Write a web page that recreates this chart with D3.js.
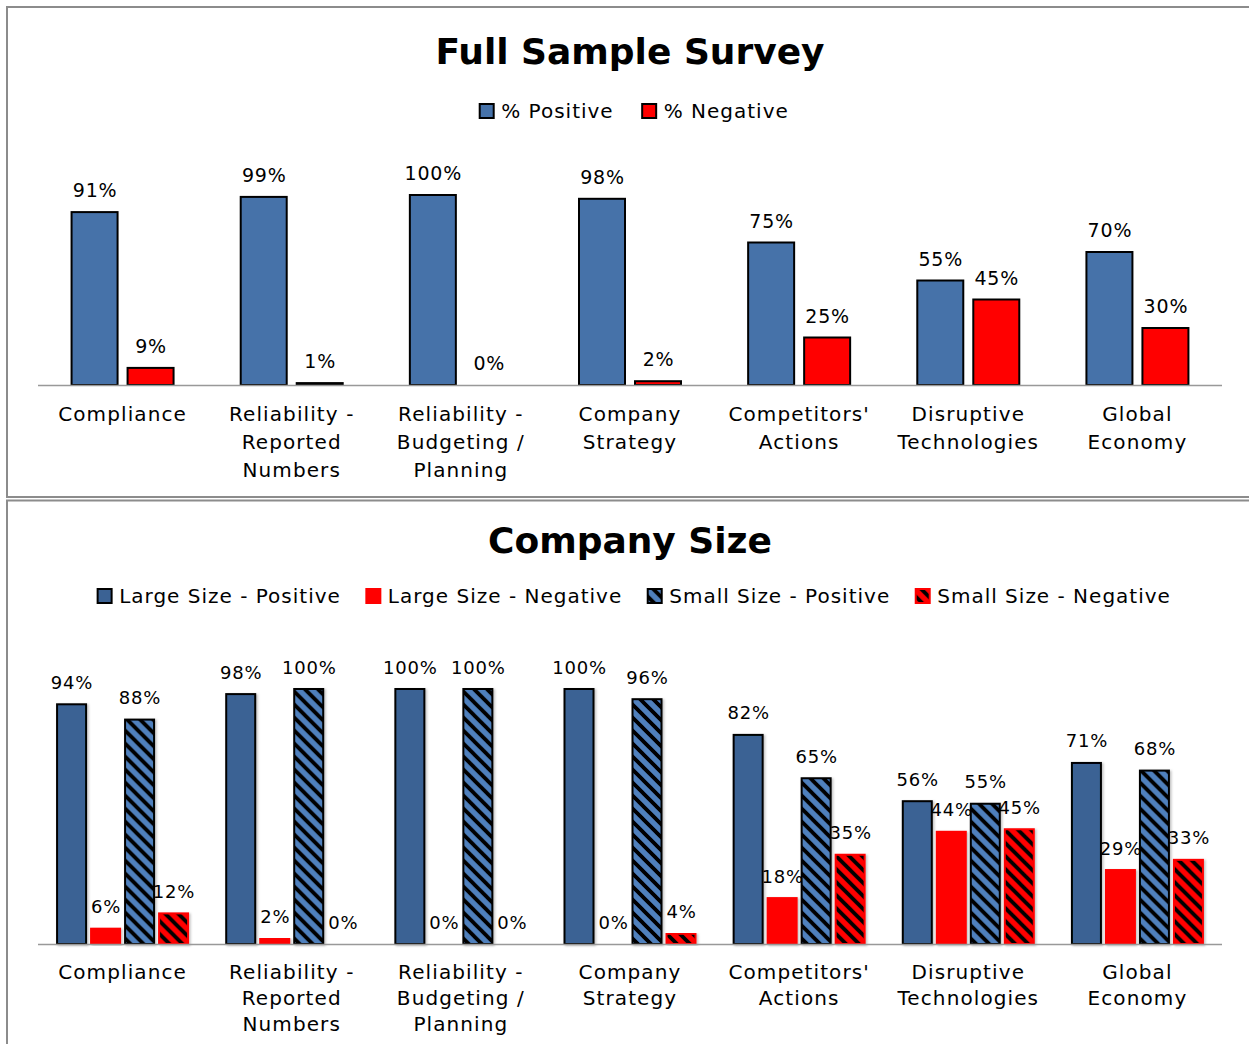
<!DOCTYPE html>
<html>
<head>
<meta charset="utf-8">
<script src="https://cdn.jsdelivr.net/npm/d3@7"></script>
<style>
  html, body { margin: 0; padding: 0; background: #fff; }
  svg { display: block; font-family: "DejaVu Sans", Verdana, sans-serif; }
</style>
</head>
<body>
<svg id="chart" width="1249" height="1044"></svg>
<script>
// 类别（换行用 \n）
const categories = [
  'Compliance',
  'Reliability -\nReported\nNumbers',
  'Reliability -\nBudgeting /\nPlanning',
  'Company\nStrategy',
  "Competitors'\nActions",
  'Disruptive\nTechnologies',
  'Global\nEconomy'
]

// Full Sample Survey
const fullPositive = [91, 99, 100, 98, 75, 55, 70]
const fullNegative = [9, 1, 0, 2, 25, 45, 30]

// Company Size
const largePositive = [94, 98, 100, 100, 82, 56, 71]
const largeNegative = [6, 2, 0, 0, 18, 44, 29]
const smallPositive = [88, 100, 100, 96, 65, 55, 68]
const smallNegative = [12, 0, 0, 4, 35, 45, 33]

const BLUE = '#4672a9'
const DARK_BLUE = '#3b6294'
const LIGHT_BLUE = '#4f80bd'
const RED = '#ff0000'

const svg = d3.select('#chart')
const W = 1249

const defs = svg.append('defs')

// 斜线填充
const hatch = (id, bg) => {
  const s = 13
  const p = defs.append('pattern')
    .attr('id', id)
    .attr('patternUnits', 'userSpaceOnUse')
    .attr('width', s)
    .attr('height', s)
  p.append('rect').attr('width', s).attr('height', s).attr('fill', bg)
  p.append('path')
    .attr('d', `M-3,-3 L${s + 3},${s + 3} M-3,${s - 3} L3,${s + 3} M${s - 3},-3 L${s + 3},3`)
    .attr('stroke', '#000')
    .attr('stroke-width', 3.8)
}
hatch('hatch-blue', LIGHT_BLUE)
hatch('hatch-red', RED)

const shadow = defs.append('filter').attr('id', 'shadow')
  .attr('x', '-20%').attr('y', '-5%').attr('width', '150%').attr('height', '115%')
shadow.append('feDropShadow')
  .attr('dx', 1.5).attr('dy', 1).attr('stdDeviation', 1.2)
  .attr('flood-color', '#000').attr('flood-opacity', 0.25)

// 面板边框
const frame = svg.append('g').attr('fill', 'none').attr('stroke', '#8c8c8c').attr('stroke-width', 2)
frame.append('path').attr('d', `M${W},7 H7 V497 H${W}`)
frame.append('path').attr('d', `M${W},500.5 H7 V1044`)

/**
 * 绘制一个分组柱状图面板
 */
const drawPanel = ({ title, titleY, legend, legendY, legendGap, series, baseY, plotH, barW, gap, labelSize, catY, catLine, barShadow }) => {
  const g = svg.append('g')

  g.append('text')
    .attr('x', 630)
    .attr('y', titleY)
    .attr('text-anchor', 'middle')
    .attr('dominant-baseline', 'central')
    .style('font-size', '36px')
    .style('font-weight', 'bold')
    .text(title)

  // 图例
  const lg = g.append('g')
  let cursor = 0
  legend.forEach(s => {
    const it = lg.append('g')
    it.append('rect')
      .attr('x', 0.5)
      .attr('y', -7)
      .attr('width', 14)
      .attr('height', 14)
      .attr('fill', s.fill)
      .attr('stroke', s.legendStroke)
      .attr('stroke-width', 2)
    const t = it.append('text')
      .attr('x', 22)
      .attr('dominant-baseline', 'central')
      .style('font-size', '20px')
      .style('letter-spacing', '1px')
      .text(s.name)
    const w = 22 + t.node().getComputedTextLength()
    it.attr('transform', `translate(${cursor},${legendY})`)
    cursor += w + legendGap
  })
  const total = cursor - legendGap
  lg.attr('transform', `translate(${634 - total / 2},0)`)

  const x0 = d3.scaleBand()
    .domain(d3.range(categories.length))
    .range([38, 1222])
    .padding(0)

  const n = series.length
  const span = n * barW + (n - 1) * gap
  const x1 = d3.scaleBand()
    .domain(d3.range(n))
    .range([-span / 2, span / 2])
    .paddingInner(gap / (barW + gap))

  const y = d3.scaleLinear().domain([0, 100]).range([baseY, baseY - plotH])

  const groups = g.selectAll('.group')
    .data(categories)
    .enter().append('g')
    .attr('class', 'group')
    .attr('transform', (d, i) => `translate(${x0(i) + x0.bandwidth() / 2},0)`)

  series.forEach((s, si) => {
    const val = d => s.values[categories.indexOf(d)]

    groups.filter(d => val(d) > 0)
      .append('rect')
      .attr('x', x1(si))
      .attr('y', d => y(val(d)))
      .attr('width', x1.bandwidth())
      .attr('height', d => baseY - y(val(d)))
      .attr('fill', s.fill)
      .attr('stroke', s.stroke)
      .attr('stroke-width', 2)
      .attr('filter', barShadow ? 'url(#shadow)' : null)

    groups.append('text')
      .attr('x', x1(si) + x1.bandwidth() / 2 + 0.5)
      .attr('y', d => y(val(d)) - 22)
      .attr('text-anchor', 'middle')
      .attr('dominant-baseline', 'central')
      .style('font-size', labelSize + 'px')
      .style('letter-spacing', '0.8px')
      .text(d => val(d) + '%')
  })

  // 基线
  g.append('line')
    .attr('x1', 38)
    .attr('x2', 1222)
    .attr('y1', baseY + 0.5)
    .attr('y2', baseY + 0.5)
    .attr('stroke', '#999')
    .attr('stroke-width', 1.5)

  // 类别标签
  const cat = groups.append('text')
    .attr('text-anchor', 'middle')
    .style('font-size', '20px')
    .style('letter-spacing', '1.1px')
  cat.selectAll('tspan')
    .data(d => d.split('\n'))
    .enter().append('tspan')
    .attr('x', 0)
    .attr('y', (d, i) => catY + i * catLine)
    .attr('dominant-baseline', 'central')
    .text(d => d)
}

drawPanel({
  title: 'Full Sample Survey',
  titleY: 51,
  legendY: 111,
  legendGap: 28,
  legend: [
    { name: '% Positive', fill: BLUE, legendStroke: '#000' },
    { name: '% Negative', fill: RED, legendStroke: '#000' }
  ],
  series: [
    { values: fullPositive, fill: BLUE, stroke: '#000' },
    { values: fullNegative, fill: RED, stroke: '#000' }
  ],
  baseY: 385,
  plotH: 190,
  barW: 46,
  gap: 10,
  labelSize: 19,
  catY: 414,
  catLine: 28,
  barShadow: false
})

drawPanel({
  title: 'Company Size',
  titleY: 540,
  legendY: 596,
  legendGap: 25,
  legend: [
    { name: 'Large Size - Positive', fill: DARK_BLUE, legendStroke: '#000' },
    { name: 'Large Size - Negative', fill: RED, legendStroke: RED },
    { name: 'Small Size - Positive', fill: 'url(#hatch-blue)', legendStroke: '#000' },
    { name: 'Small Size - Negative', fill: 'url(#hatch-red)', legendStroke: RED }
  ],
  series: [
    { values: largePositive, fill: DARK_BLUE, stroke: '#000' },
    { values: largeNegative, fill: RED, stroke: RED },
    { values: smallPositive, fill: 'url(#hatch-blue)', stroke: '#000' },
    { values: smallNegative, fill: 'url(#hatch-red)', stroke: RED }
  ],
  baseY: 944,
  plotH: 255,
  barW: 29,
  gap: 5,
  labelSize: 18,
  catY: 972,
  catLine: 26,
  barShadow: true
})
</script>
</body>
</html>
